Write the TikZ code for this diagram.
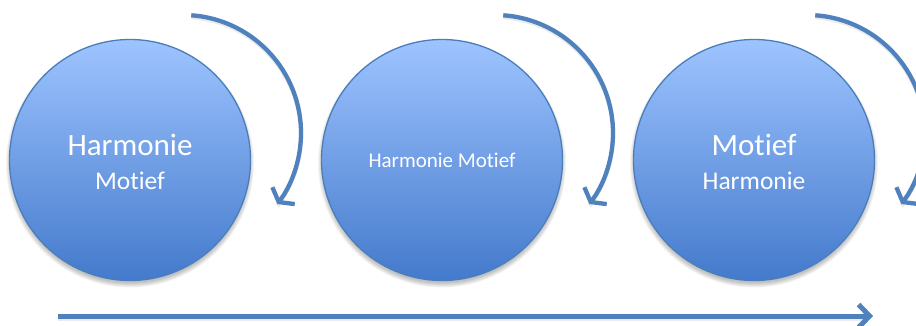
\documentclass[tikz,border=0pt]{standalone}
\usepackage{fontspec}
\setmainfont{Carlito}[Ligatures=NoCommon]
\usetikzlibrary{arrows.meta,calc}

\definecolor{ballTop}{RGB}{158,196,255}
\definecolor{ballBottom}{RGB}{68,122,204}
\definecolor{ballEdge}{RGB}{74,126,187}
\definecolor{flow}{RGB}{79,129,189}

\begin{document}
\begin{tikzpicture}[x=1pt,y=1pt,
  ball/.style={circle, minimum size=241pt, inner sep=0pt, draw=ballEdge,
    line width=1.3pt, top color=ballTop, bottom color=ballBottom},
  bigword/.style={text=white, font=\fontsize{31}{37}\selectfont, anchor=base, inner sep=0pt},
  smallword/.style={text=white, font=\fontsize{25.5}{30}\selectfont, anchor=base, inner sep=0pt},
  midword/.style={text=white, font=\fontsize{21}{25}\selectfont, anchor=base, inner sep=0pt},
  turn/.style={draw=flow, line width=4.3pt, -{Straight Barb[length=8pt,width=28pt]}},
  timeline/.style={draw=flow, line width=5pt, -{Straight Barb[length=11pt,width=23pt]}},
  ghost/.style={draw=black, opacity=0.08}
]
\useasboundingbox (0,0) rectangle (916,325);
\clip (0,0) rectangle (916,325);
\fill[white] (0,0) rectangle (916,325);

% soft shadows under the three balls
\foreach \cx in {130,442,754}{
  \foreach \k in {0,...,5}{
    \fill[black, opacity=0.045] (\cx,161.5) circle ({119.5+\k*0.9});
  }
}

% the three balls
\node[ball] (b1) at (130,165) {};
\node[ball] (b2) at (442,165) {};
\node[ball] (b3) at (754,165) {};

% labels
\node[bigword]   (h1) at (130,170) {Harmonie};
\node[smallword] (m1) at (130,136) {Motief};
\node[midword]   (hm) at (442,158) {Harmonie Motief};
\node[bigword]   (m3) at (754,170) {Motief};
\node[smallword] (h3) at (754,136) {Harmonie};

% turning arrows beside each ball
\foreach \i/\cx in {1/183,2/495,3/807}{
  \coordinate (s\i) at ($(\cx,192)+(86:118)$);
  \draw[ghost, line width=4.3pt] ([yshift=-2pt]s\i) arc[start angle=86, end angle=-37, radius=118];
  \draw[turn] (s\i) arc[start angle=86, end angle=-37, radius=118];
}

% time line along the bottom
\coordinate (t0) at (58,9);
\coordinate (t1) at (873,9);
\draw[ghost, line width=5pt] ([yshift=-2.5pt]t0) -- ([yshift=-2.5pt,xshift=-8pt]t1);
\draw[timeline] (t0) -- (t1);
\end{tikzpicture}
\end{document}
